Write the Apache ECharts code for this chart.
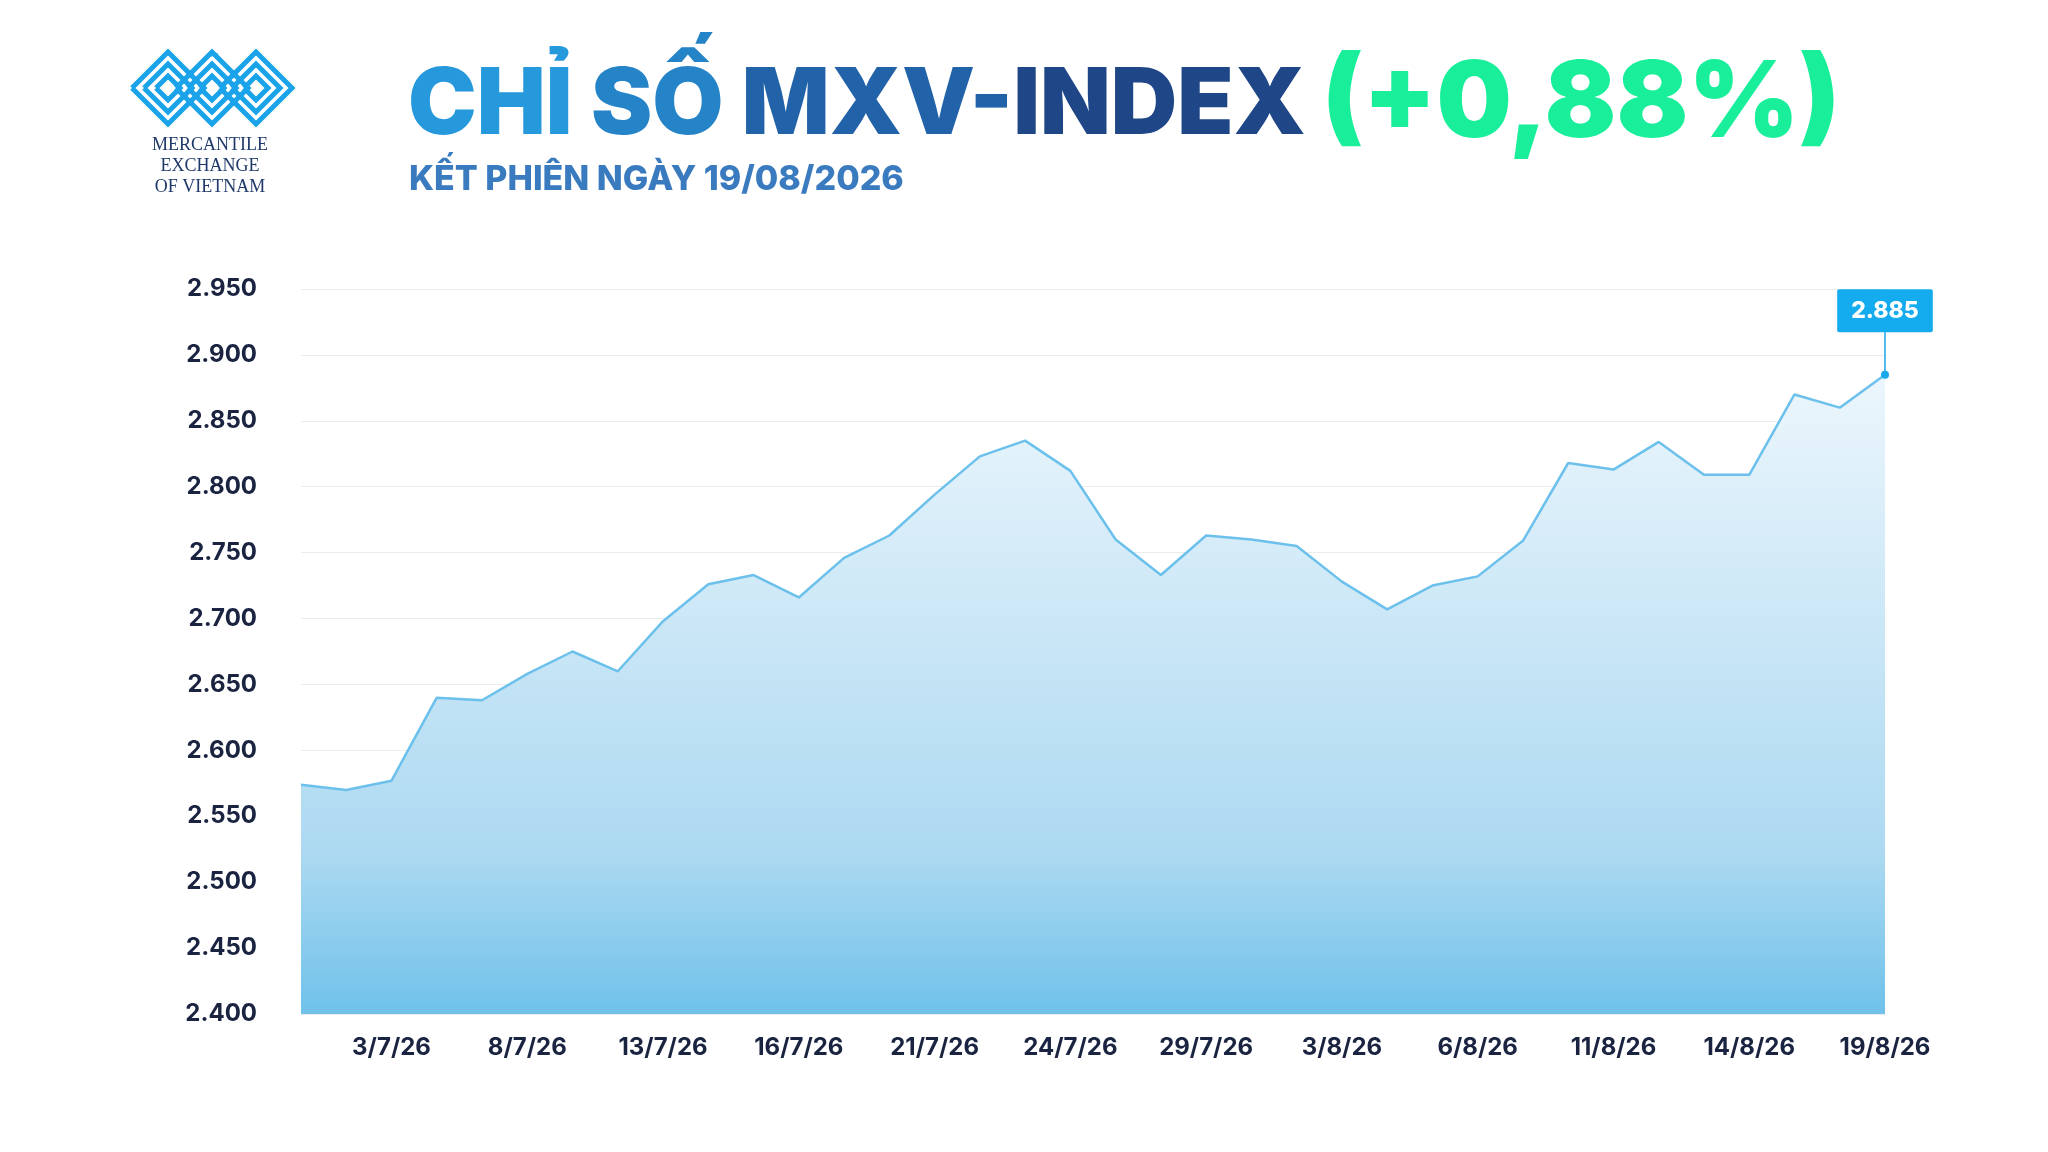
<!DOCTYPE html>
<html><head><meta charset="utf-8">
<script src="https://cdn.jsdelivr.net/npm/echarts@6/dist/echarts.min.js"></script>
<style>html,body{margin:0;background:#fff}#chart{width:2048px;height:1152px}</style>
</head><body><div id="chart"></div>
<script>
const dates = ['1/7/26','2/7/26','3/7/26','6/7/26','7/7/26','8/7/26','9/7/26','10/7/26','13/7/26','14/7/26','15/7/26','16/7/26','17/7/26','20/7/26','21/7/26','22/7/26','23/7/26','24/7/26','27/7/26','28/7/26','29/7/26','30/7/26','31/7/26','3/8/26','4/8/26','5/8/26','6/8/26','7/8/26','10/8/26','11/8/26','12/8/26','13/8/26','14/8/26','17/8/26','18/8/26','19/8/26'];
const values = [2574,2570,2577,2640,2638,2658,2675,2660,2698,2726,2733,2716,2746,2763,2794,2823,2835,2812,2760,2733,2763,2760,2755,2728,2707,2725,2732,2759,2818,2813,2834,2809,2809,2870,2860,2885];
const yTicks = [2400, 2950, 50];
const fmt = v => Math.round(v).toLocaleString('de-DE');

const chart = echarts.init(document.getElementById('chart'));
const lastIdx = values.length - 1;

const logo = [];
// simple diamond-chevron logo
for (let k = 0; k < 3; k++) {
    const cx = 168 + k * 44, cy = 88, s = 36;
    for (let r = 0; r < 3; r++) {
        const d = s - r * 12;
        logo.push({type: 'polyline', shape: {points: [[cx - d, cy], [cx, cy - d], [cx + d, cy], [cx, cy + d], [cx - d, cy]]},
            style: {stroke: '#1aa3e8', lineWidth: 5, fill: null}});
    }
}

const titleFont = {fontFamily: 'Inter', fontWeight: 900, fontSize: 92};

chart.setOption({
    backgroundColor: '#fff',
    graphic: [
        ...logo,
        {type: 'text', left: 209, top: 52, style: {text: '™', fontSize: 10, fill: '#1aa3e8'}},
        {type: 'text', x: 210, y: 135, style: {text: 'MERCANTILE\nEXCHANGE\nOF VIETNAM', fontFamily: 'Liberation Serif', fontSize: 18, lineHeight: 21, fill: '#1f3a6a', align: 'center'}},
        {type: 'text', x: 408, y: 60, style: {
            text: '{a|CHỈ }{b|SỐ }{c|MXV-}{d|INDEX}',
            rich: {
                a: {...titleFont, fill: '#2699dd'},
                b: {...titleFont, fill: '#2583c8'},
                c: {...titleFont, fill: '#2262a8'},
                d: {...titleFont, fill: '#1f4787'}
            }}},
        {type: 'text', x: 1322, y: 52, style: {text: '(+0,88%)', fontFamily: 'Inter', fontWeight: 900, fontSize: 106, fill: '#19ef9a',
            shadowColor: 'rgba(0,0,0,0.25)', shadowBlur: 6, shadowOffsetY: 3}},
        {type: 'text', x: 409, y: 163, style: {text: 'KẾT PHIÊN NGÀY 19/08/2026', fontFamily: 'Inter', fontWeight: 800, fontSize: 34, fill: '#3a7bc0'}}
    ],
    grid: {left: 301, right: 163, top: 289, bottom: 138},
    xAxis: {
        type: 'category', data: dates, boundaryGap: false,
        axisLine: {show: false}, axisTick: {show: false},
        axisLabel: {interval: (i) => i % 3 === 2, fontFamily: 'Inter', fontWeight: 700, fontSize: 24, color: '#1a2340', margin: 22}
    },
    yAxis: {
        type: 'value', min: yTicks[0], max: yTicks[1], interval: yTicks[2],
        axisLabel: {formatter: fmt, fontFamily: 'Inter', fontWeight: 700, fontSize: 24, color: '#1a2340', margin: 44},
        splitLine: {lineStyle: {color: '#ececec', width: 1}}
    },
    series: [{
        type: 'line', data: values, symbol: 'none', smooth: false,
        lineStyle: {color: '#6cc0ec', width: 2.5},
        areaStyle: {opacity: 1, origin: 'start', color: new echarts.graphic.LinearGradient(0, 0, 0, 1, [
            {offset: 0, color: '#ecf6fc'}, {offset: 0.75, color: '#acd9f1'}, {offset: 1, color: '#6fc1ea'}])},
        markLine: {
            symbol: 'none', silent: true, label: {show: false},
            lineStyle: {color: '#1aa7ec', width: 1.5, type: 'solid'},
            data: [[{coord: [lastIdx, values[lastIdx]]}, {coord: [lastIdx, 2935]}]]
        },
        markPoint: {
            symbol: 'circle', symbolSize: 8, itemStyle: {color: '#1aa7ec'},
            data: [{coord: [lastIdx, values[lastIdx]], value: values[lastIdx]}],
            label: {show: true, formatter: p => fmt(p.value), offset: [0, -64], backgroundColor: '#14abef', color: '#fff',
                fontFamily: 'Inter', fontWeight: 800, fontSize: 23, padding: [10, 14], borderRadius: 2}
        }
    }]
});
</script></body></html>
